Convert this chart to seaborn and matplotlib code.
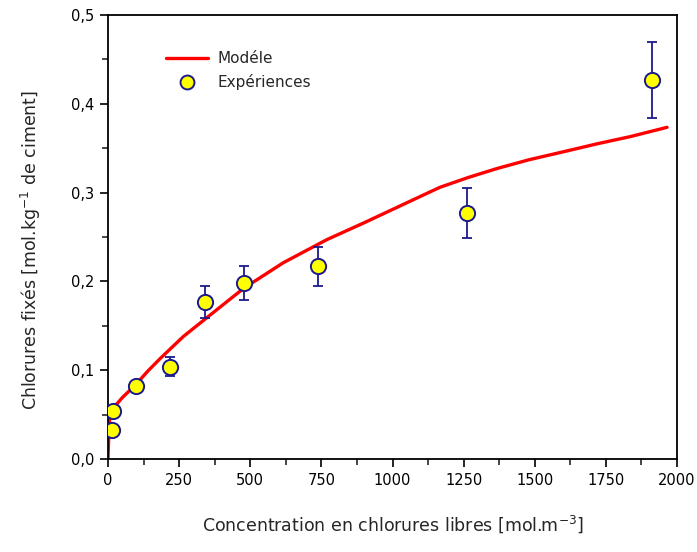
import matplotlib
matplotlib.use("Agg")
import matplotlib.pyplot as plt
import matplotlib.ticker as mticker
from matplotlib.lines import Line2D
import seaborn as sns
import pandas as pd

# Model curve
model_x = [0, 3, 7, 20, 50, 98, 140, 183, 265, 382, 476, 616, 769, 900, 1000, 1100,
           1167, 1266, 1366, 1480, 1601, 1720, 1835, 1965]
model_y = [0.0, 0.03, 0.052, 0.058, 0.069, 0.084, 0.099, 0.113, 0.138, 0.168, 0.192,
           0.221, 0.247, 0.266, 0.281, 0.296, 0.306, 0.317, 0.327, 0.337, 0.346, 0.355,
           0.363, 0.3735]

# Experimental points
exp_x = [13, 19, 98, 218, 341, 478, 739, 1261, 1911]
exp_y = [0.033, 0.054, 0.0826, 0.104, 0.1765, 0.1986, 0.2173, 0.277, 0.427]
exp_err = [0.004, 0.005, 0.005, 0.011, 0.018, 0.019, 0.022, 0.028, 0.043]

x_ticks = [0, 250, 500, 750, 1000, 1250, 1500, 1750, 2000]
y_ticks = [0.0, 0.1, 0.2, 0.3, 0.4, 0.5]

sns.set_style("ticks")
plt.rcParams['font.family'] = ['DejaVu Sans']

fig = plt.figure(figsize=(6.97, 5.52), dpi=100)
ax = fig.add_axes([108/697, 1-459/552, (677-108)/697, (459-15)/552])

df_model = pd.DataFrame({"x": model_x, "y": model_y})
df_exp = pd.DataFrame({"x": exp_x, "y": exp_y, "err": exp_err})

navy = "#1a1a8c"
sns.lineplot(data=df_model, x="x", y="y", ax=ax, color="#ff0000", lw=2.4, zorder=2)
ax.errorbar(df_exp["x"], df_exp["y"], yerr=df_exp["err"], fmt="none", ecolor=navy,
            elinewidth=1.3, capsize=3.5, capthick=1.3, zorder=3)
sns.scatterplot(data=df_exp, x="x", y="y", ax=ax, color="#ffff00", edgecolor=navy,
                linewidth=1.4, s=120, zorder=4)

ax.set_xlim(0, 2000)
ax.set_ylim(0, 0.5)
ax.set_xticks(x_ticks)
ax.set_yticks(y_ticks)
ax.xaxis.set_minor_locator(mticker.MultipleLocator(125))
ax.yaxis.set_minor_locator(mticker.MultipleLocator(0.05))
ax.set_xticklabels([str(v) for v in x_ticks])
ax.set_yticklabels([f"{v:.1f}".replace(".", ",") for v in y_ticks])
ax.tick_params(axis="both", which="major", direction="out", length=6, width=1.2,
               labelsize=10.5, colors="black", pad=4)
ax.tick_params(axis="both", which="minor", direction="out", length=4, width=1.2)
ax.tick_params(top=False, right=False)
for sp in ax.spines.values():
    sp.set_linewidth(1.3)
    sp.set_color("black")
    sp.set_visible(True)

ax.set_xlabel("Concentration en chlorures libres [mol.m$^{-3}$]", fontsize=12.5, labelpad=18)
ax.set_ylabel("Chlorures fixés [mol.kg$^{-1}$ de ciment]", fontsize=12.5)
ax.yaxis.set_label_coords(-0.115, 0.47)

handles = [
    Line2D([0], [0], color="#ff0000", lw=2.4),
    Line2D([0], [0], marker="o", color="none", markerfacecolor="#ffff00",
           markeredgecolor=navy, markeredgewidth=1.4, markersize=10),
]
ax.legend(handles, ["Modéle", "Expériences"], loc="upper left",
          bbox_to_anchor=(0.077, 0.95), frameon=False, fontsize=11,
          handlelength=2.8, handletextpad=0.6, labelspacing=0.55)

fig.savefig("out.png", dpi=100)
